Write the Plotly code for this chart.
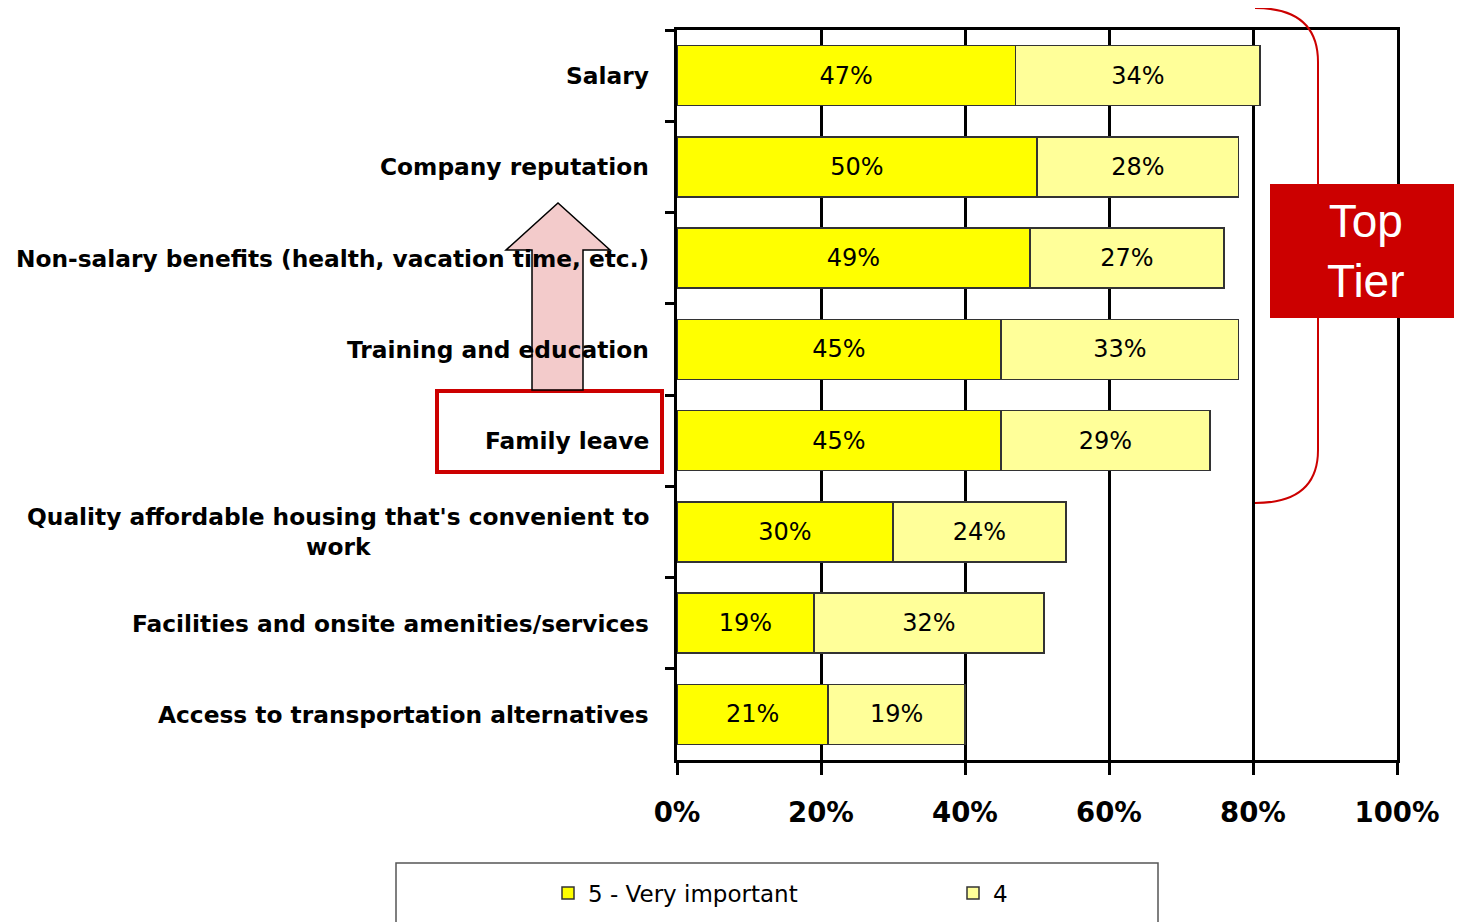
import plotly.graph_objects as go

categories = [
    "Salary",
    "Company reputation",
    "Non-salary benefits (health, vacation time, etc.)",
    "Training and education",
    "Family leave",
    "Quality affordable housing that's convenient to<br>work",
    "Facilities and onsite amenities/services",
    "Access to transportation alternatives",
]
very_important = [47, 50, 49, 45, 45, 30, 19, 21]
important_4 = [34, 28, 27, 33, 29, 24, 32, 19]
x_ticks = [0, 20, 40, 60, 80, 100]
x_tick_labels = ["0%", "20%", "40%", "60%", "80%", "100%"]

OFF = 8  # page body margin
W, H = 1462 - OFF, 922 - OFF
L, R, T, B = 677, 1397, 30, 760  # screen coordinates of plot area


def px(x):
    return (x - L) / (R - L)


def py(y):
    return (B - y) / (B - T)


fig = go.Figure()
fig.add_trace(go.Bar(
    y=categories, x=very_important, orientation="h", name="5 - Very important",
    marker=dict(color="#FFFF00", line=dict(color="#333333", width=1.5)),
    text=[f"{v}%" for v in very_important], textposition="inside",
    insidetextanchor="middle", textangle=0,
    textfont=dict(family="DejaVu Sans", size=24, color="black"),
))
fig.add_trace(go.Bar(
    y=categories, x=important_4, orientation="h", name="4",
    marker=dict(color="#FFFF99", line=dict(color="#333333", width=1.5)),
    text=[f"{v}%" for v in important_4], textposition="inside",
    insidetextanchor="middle", textangle=0,
    textfont=dict(family="DejaVu Sans", size=24, color="black"),
))

annotations = []
for c in categories:
    annotations.append(dict(
        x=px(651), xref="paper", y=c, yref="y", text=f"<b>{c}</b>",
        xanchor="right", yanchor="middle", align="center", showarrow=False,
        font=dict(family="DejaVu Sans", size=23.3, color="black"),
    ))
annotations.append(dict(
    x=(px(1270) + px(1462)) / 2, xref="paper", y=(py(184) + py(318)) / 2, yref="paper",
    text="Top<br>Tier", showarrow=False, xanchor="center", yanchor="middle",
    font=dict(family="Liberation Sans, Arial", size=46, color="white"),
))

shapes = [
    # legend frame
    dict(type="rect", xref="paper", yref="paper", x0=px(396), x1=px(1158),
         y0=py(863), y1=py(940), line=dict(color="#555555", width=1.5),
         fillcolor="rgba(0,0,0,0)"),
    # bracket
    dict(type="path", xref="paper", yref="paper",
         path=(f"M {px(1255)},{py(8)} Q {px(1318)},{py(8)} {px(1318)},{py(62)} "
               f"L {px(1318)},{py(450)} Q {px(1318)},{py(503)} {px(1255)},{py(503)}"),
         line=dict(color="#CC0000", width=2)),
    # Top Tier box
    dict(type="rect", xref="paper", yref="paper", x0=px(1270), x1=px(1462),
         y0=py(318), y1=py(184), fillcolor="#CC0000", line=dict(width=0)),
    # Family leave box
    dict(type="rect", xref="paper", yref="paper", x0=px(437), x1=px(662),
         y0=py(472), y1=py(391), line=dict(color="#CC0000", width=4),
         fillcolor="rgba(0,0,0,0)"),
    # arrow
    dict(type="path", xref="paper", yref="paper",
         path=(f"M {px(532)},{py(390)} L {px(532)},{py(250)} L {px(506)},{py(250)} "
               f"L {px(558)},{py(203)} L {px(610)},{py(250)} L {px(583)},{py(250)} "
               f"L {px(583)},{py(390)} Z"),
         fillcolor="rgba(240,190,190,0.8)", line=dict(color="black", width=1.5)),
]

fig.update_layout(
    width=W, height=H,
    margin=dict(l=L - OFF, r=W + OFF - R, t=T - OFF, b=H + OFF - B, pad=0,
                autoexpand=False),
    barmode="stack", bargap=0.34,
    plot_bgcolor="white", paper_bgcolor="white",
    showlegend=True,
    legend=dict(orientation="h", x=px(548), y=py(893), xanchor="left", yanchor="middle",
                xref="paper", yref="paper", entrywidth=360, entrywidthmode="pixels",
                traceorder="normal",
                font=dict(family="DejaVu Sans", size=23, color="black"),
                bgcolor="rgba(0,0,0,0)", itemwidth=30),
    annotations=annotations, shapes=shapes,
    xaxis=dict(range=[0, 100], tickvals=x_ticks, ticktext=x_tick_labels,
               showgrid=True, gridcolor="black", gridwidth=3,
               showline=True, linecolor="black", linewidth=3, mirror=True,
               ticks="outside", ticklen=12, tickwidth=3, tickcolor="black",
               ticklabelstandoff=14,
               tickfont=dict(family="DejaVu Sans", size=27.5, color="black", weight="bold"),
               zeroline=False, fixedrange=True),
    yaxis=dict(categoryorder="array", categoryarray=categories, autorange="reversed",
               showticklabels=False, showline=True, linecolor="black", linewidth=3,
               mirror=True, ticks="outside", ticklen=9, tickwidth=3, tickcolor="black",
               tickson="boundaries", showgrid=False, fixedrange=True),
)

fig.write_html("out.html")
